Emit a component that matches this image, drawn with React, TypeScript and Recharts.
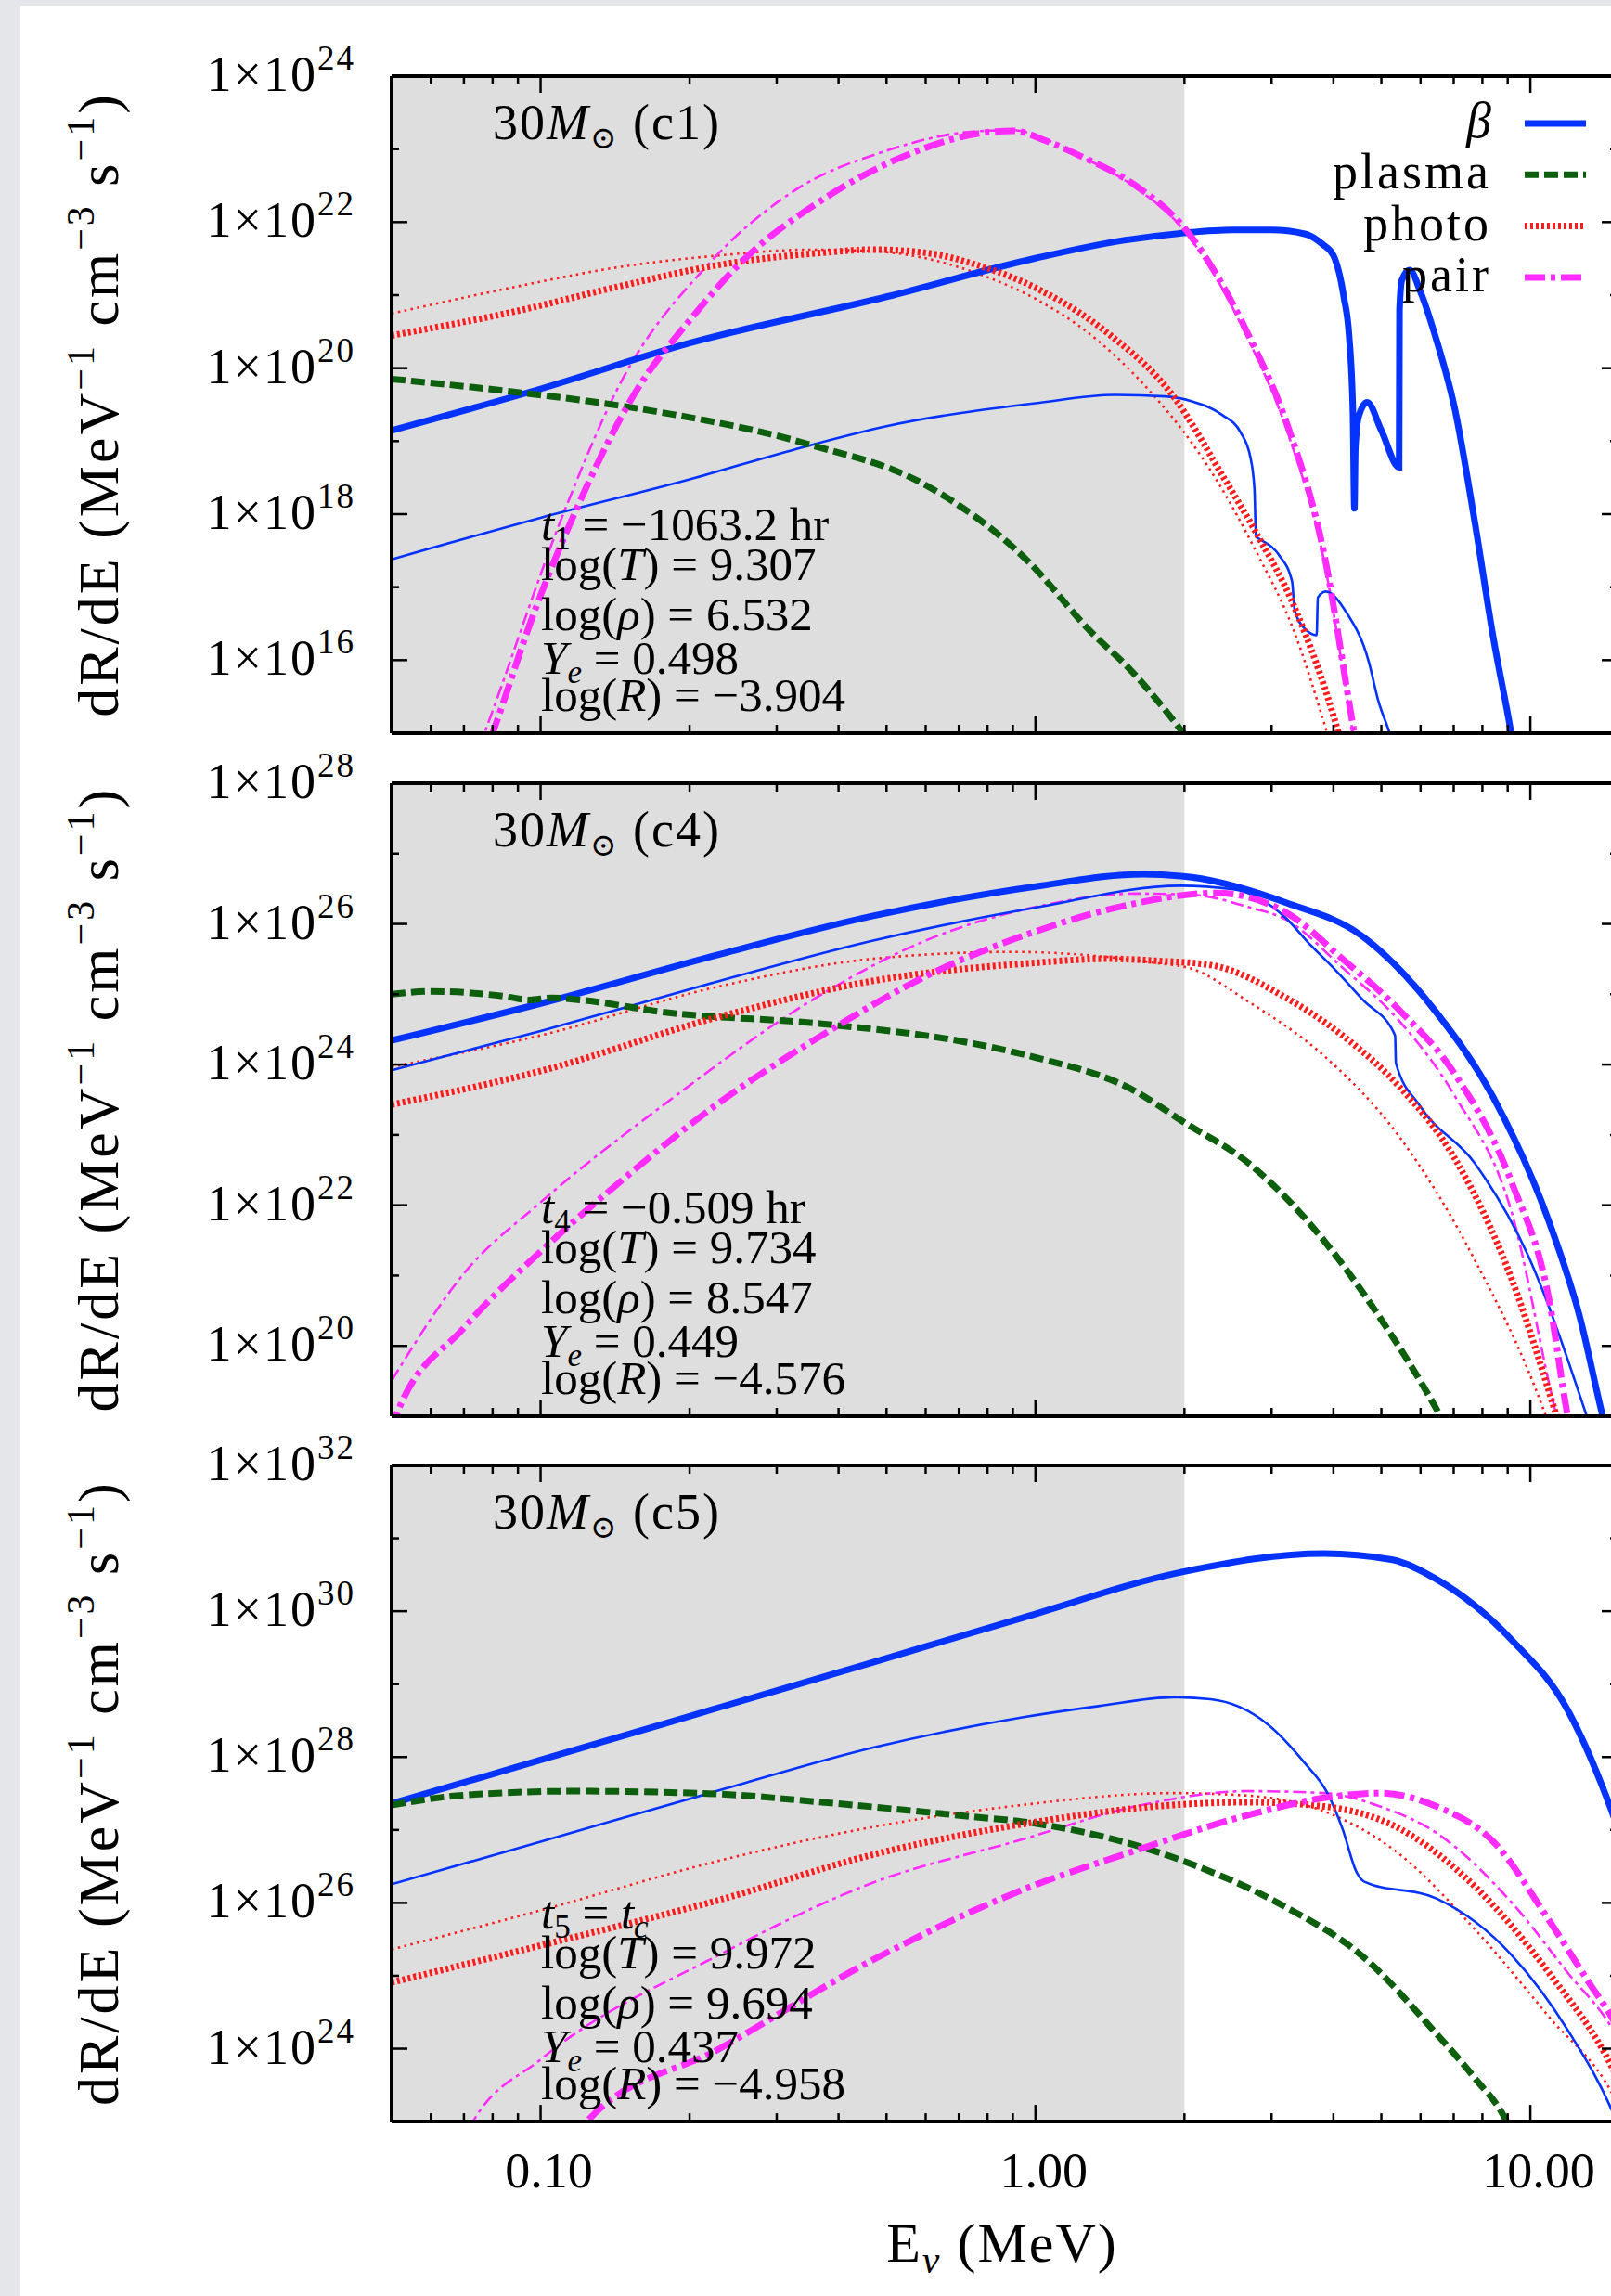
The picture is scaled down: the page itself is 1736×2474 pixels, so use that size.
import React from "react";
import { LineChart, Line, XAxis, YAxis, ReferenceArea, Legend } from "recharts";

type Pt = [number, number];

const SERIF = '"Liberation Serif", "DejaVu Serif", serif';

// energy axis (MeV)
const energyDomain: [number, number] = [0.05, 15];
const energyTicks = [0.06, 0.07, 0.08, 0.09, 0.1, 0.2, 0.3, 0.4, 0.5, 0.6, 0.7, 0.8, 0.9, 1, 2, 3, 4, 5, 6, 7, 8, 9, 10];
const shadedBand: [number, number] = [0.05, 2];

const c1Decades = [1e16, 1e17, 1e18, 1e19, 1e20, 1e21, 1e22, 1e23, 1e24];
const c4Decades = [1e20, 1e21, 1e22, 1e23, 1e24, 1e25, 1e26, 1e27, 1e28];
const c5Decades = [1e24, 1e25, 1e26, 1e27, 1e28, 1e29, 1e30, 1e31, 1e32];

// dR/dE in MeV^-1 cm^-3 s^-1 vs E in MeV
const c1BetaBold: Pt[] = [
  [0.05, 1.4e19], [0.1, 5.2e19], [0.2, 2.2e20], [0.5, 9.5e20], [1, 3.2e21], [1.5, 5.6e21], [2, 7.1e21],
  [2.5, 7.8e21], [3, 7.8e21], [3.5, 6.9e21], [3.8, 5.0e21], [4.0, 3.5e21], [4.2, 9.3e20], [4.3, 2.9e20],
  [4.38, 2.5e19], [4.41, 1.2e18], [4.43, 7.9e18], [4.5, 2.2e19], [4.68, 3.4e19], [5.0, 1.4e19],
  [5.43, 4.4e18], [5.44, 6.3e20], [5.5, 1.6e21], [5.7, 2.2e21], [6.0, 1.1e21], [6.41, 2.9e20],
  [7.05, 2.6e19], [7.71, 8.3e17], [8.42, 2.0e16], [9.15, 9.8e14], [9.5, 2e14],
];
const c1BetaThin: Pt[] = [
  [0.05, 2.4e17], [0.1, 8.9e17], [0.2, 3.0e18], [0.34, 8.3e18], [0.5, 1.6e19], [1, 3.3e19], [1.45, 4.3e19],
  [1.83, 4.1e19], [2.07, 3.5e19], [2.38, 2.3e19], [2.6, 1.3e19], [2.72, 5.9e18], [2.77, 2.2e18],
  [2.79, 4.9e17], [2.83, 4.6e17], [3.1, 2.8e17], [3.3, 1.2e17], [3.34, 4.9e16], [3.5, 2.7e16],
  [3.7, 2.2e16], [3.72, 7.2e16], [3.86, 8.7e16], [4.25, 4.5e16], [4.72, 9.3e15], [4.92, 2.9e15],
  [5.2, 9.8e14], [5.4, 4e14],
];
const c1Plasma: Pt[] = [
  [0.05, 7.1e19], [0.089, 4.7e19], [0.157, 2.8e19], [0.347, 9.1e18], [0.6, 2.5e18], [0.97, 2.2e17],
  [1.29, 2.5e16], [1.56, 7.2e15], [1.99, 1.0e15], [2.2, 4e14],
];
const c1PhotoBold: Pt[] = [
  [0.05, 2.8e20], [0.089, 6.0e20], [0.143, 1.3e21], [0.23, 2.6e21], [0.37, 3.8e21], [0.47, 4.2e21],
  [0.6, 3.8e21], [0.76, 2.6e21], [1.0, 1.26e21], [1.41, 2.9e20], [1.9, 4.1e19], [2.38, 3.5e18],
  [2.79, 5.6e17], [3.33, 5.5e16], [4.1, 9.8e14], [4.3, 3e14],
];
const c1PhotoThin: Pt[] = [
  [0.05, 5.6e20], [0.089, 1.3e21], [0.143, 2.4e21], [0.23, 3.5e21], [0.35, 4.2e21], [0.47, 4.0e21],
  [0.6, 3.2e21], [0.76, 2.0e21], [1.0, 8.9e20], [1.29, 2.9e20], [1.74, 4.1e19], [2.0, 1.3e19],
  [2.34, 2.7e18], [2.79, 3.1e17], [3.33, 2.5e16], [3.89, 9.8e14], [4.1, 3e14],
];
const c1PairBold: Pt[] = [
  [0.075, 3e14], [0.08, 1.0e15], [0.098, 5.4e16], [0.118, 1.15e18], [0.157, 5.2e19], [0.2, 4.5e20],
  [0.254, 2.8e21], [0.37, 2.0e22], [0.545, 8.1e22], [0.8, 1.7e23], [0.9, 1.78e23], [1.05, 1.3e23],
  [1.23, 8.1e22], [1.59, 3.2e22], [2.0, 8.3e21], [2.69, 2.9e20], [3.24, 1.55e19], [3.82, 3.1e17],
  [4.41, 9.8e14], [4.6, 2e14],
];
const c1PairThin: Pt[] = [
  [0.072, 3e14], [0.077, 1.0e15], [0.112, 1.15e18], [0.143, 5.2e19], [0.22, 2.8e21], [0.32, 2.5e22],
  [0.5, 9.5e22], [0.75, 1.74e23], [0.9, 1.82e23], [1.05, 1.35e23], [1.23, 8.1e22], [1.59, 3.0e22],
  [2.0, 7.6e21], [2.69, 2.5e20], [3.24, 1.26e19], [3.82, 2.5e17], [4.38, 9.8e14], [4.55, 2e14],
];

const c4BetaBold: Pt[] = [
  [0.05, 2.2e24], [0.1, 7.4e24], [0.23, 3.7e25], [0.47, 1.3e26], [1.0, 3.4e26], [1.65, 5.1e26],
  [2.07, 4.6e26], [3.21, 2.0e26], [4.56, 6.8e25], [6.46, 5.5e24], [8.42, 3.4e23], [10.9, 5.9e21],
  [12.6, 2.5e20], [14.0, 1.0e19], [15, 1.6e18],
];
const c4BetaThin: Pt[] = [
  [0.05, 8.3e23], [0.1, 3.0e24], [0.23, 1.55e25], [0.47, 5.8e25], [1.0, 1.7e26], [1.96, 3.5e26],
  [2.51, 3.1e26], [3.21, 1.2e26], [3.56, 5.4e25], [3.97, 2.5e25], [4.59, 8.3e24], [5.33, 2.6e24],
  [5.35, 1.05e24], [5.98, 2.6e23], [7.71, 4.0e22], [9.84, 2.1e21], [13.0, 1.0e19], [14, 2e18],
];
const c4Plasma: Pt[] = [
  [0.05, 1.0e25], [0.06, 1.1e25], [0.085, 9.3e24], [0.095, 8.3e24], [0.105, 8.9e24], [0.12, 8.3e24],
  [0.18, 5.5e24], [0.37, 3.8e24], [0.76, 1.95e24], [1.0, 1.26e24], [1.56, 4.5e23], [2.0, 1.5e23],
  [2.69, 4.0e22], [3.82, 3.2e21], [4.97, 2.5e20], [6.58, 1.0e19], [7.2, 3e18],
];
const c4PhotoBold: Pt[] = [
  [0.05, 2.7e23], [0.1, 8.1e23], [0.23, 4.8e24], [0.47, 1.55e25], [1.0, 2.8e25], [1.4, 3.2e25],
  [1.74, 3.0e25], [2.26, 2.6e25], [3.21, 8.9e24], [4.17, 2.6e24], [5.43, 4.9e23], [7.05, 4.5e22],
  [9.17, 8.9e20], [11.3, 1.0e19], [12, 2.5e18],
];
const c4PhotoThin: Pt[] = [
  [0.05, 9.3e23], [0.1, 2.6e24], [0.23, 1.3e25], [0.47, 3.2e25], [0.9, 4.0e25], [1.74, 2.8e25],
  [2.07, 2.3e25], [2.69, 7.9e24], [3.82, 1.35e24], [5.43, 9.5e22], [7.71, 1.7e21], [10.75, 1.0e19],
  [11.5, 2.5e18],
];
const c4PairBold: Pt[] = [
  [0.05, 6e18], [0.051, 1.0e19], [0.07, 1.8e20], [0.1, 2.2e21], [0.143, 2.0e22], [0.23, 2.9e23],
  [0.37, 2.6e24], [0.6, 1.8e25], [1.0, 7.8e25], [1.56, 1.9e26], [2.32, 2.75e26], [3.21, 1.45e26],
  [4.17, 3.2e25], [5.43, 6.0e24], [7.05, 7.2e23], [9.17, 2.1e22], [10.9, 4.7e20], [11.9, 1.0e19],
  [12.5, 2e18],
];
const c4PairThin: Pt[] = [
  [0.05, 3.2e19], [0.07, 1.07e21], [0.1, 1.1e22], [0.18, 2.9e23], [0.37, 1.0e25], [0.6, 5.8e25],
  [1.0, 1.74e26], [1.59, 2.7e26], [2.07, 2.6e26], [2.69, 1.74e26], [3.21, 1.15e26], [4.17, 2.4e25],
  [5.43, 4.2e24], [7.05, 3.5e23], [9.17, 7.9e21], [11.3, 1.0e19], [12, 2e18],
];

const c5BetaBold: Pt[] = [
  [0.05, 2.3e27], [0.1, 9.1e27], [0.23, 4.8e28], [0.47, 2.0e29], [0.94, 8.1e29], [2.0, 3.5e30],
  [3.83, 6.2e30], [5.24, 5.1e30], [6.46, 2.75e30], [9.18, 4.0e29], [11.9, 4.4e28], [14.7, 1.6e27],
  [16, 3e26],
];
const c5BetaThin: Pt[] = [
  [0.05, 1.8e26], [0.1, 6.9e26], [0.23, 3.5e27], [0.47, 1.35e28], [0.94, 3.5e28], [1.34, 5.0e28],
  [1.9, 6.6e28], [2.26, 6.2e28], [2.93, 2.9e28], [3.5, 8.3e27], [3.89, 3.2e27], [4.17, 1.05e27],
  [4.46, 2.6e26], [4.62, 1.95e26], [6.46, 1.15e26], [9.18, 1.9e25], [11.9, 1.8e24], [14.7, 1.3e23],
  [16, 3e22],
];
const c5Plasma: Pt[] = [
  [0.05, 2.2e27], [0.07, 3.0e27], [0.118, 3.4e27], [0.23, 3.1e27], [0.37, 2.4e27], [0.76, 1.5e27],
  [0.94, 1.3e27], [2.0, 3.7e26], [3.21, 8.7e25], [4.56, 1.9e25], [6.46, 1.6e24], [7.71, 4.0e23],
  [8.96, 1.0e23], [9.5, 4e22],
];
const c5PhotoBold: Pt[] = [
  [0.05, 8.1e24], [0.1, 2.6e25], [0.23, 1.1e26], [0.47, 4.6e26], [0.94, 1.2e27], [1.9, 2.2e27],
  [2.69, 2.4e27], [3.83, 2.1e27], [5.43, 1.05e27], [7.71, 1.7e26], [10.9, 1.1e25], [14.7, 5.2e23],
  [16, 1.5e23],
];
const c5PhotoThin: Pt[] = [
  [0.05, 2.3e25], [0.1, 7.9e25], [0.23, 3.8e26], [0.47, 1.1e27], [0.94, 2.2e27], [1.9, 3.2e27],
  [2.69, 2.95e27], [3.83, 1.8e27], [5.43, 4.7e26], [7.71, 4.4e25], [10.9, 2.75e24], [14.7, 2.3e23],
  [16, 7e22],
];
const c5PairBold: Pt[] = [
  [0.115, 4e22], [0.124, 1.0e23], [0.23, 1.0e24], [0.47, 1.66e25], [0.94, 1.5e26], [1.59, 5.2e26],
  [2.69, 1.6e27], [3.83, 2.75e27], [4.97, 3.2e27], [6.46, 2.1e27], [8.42, 6.9e26], [10.9, 5.8e25],
  [13.1, 8.3e24], [14.7, 2.5e24], [16, 8e23],
];
const c5PairThin: Pt[] = [
  [0.068, 4e22], [0.073, 1.0e23], [0.1, 7.1e23], [0.23, 1.95e25], [0.47, 1.9e26], [0.94, 7.4e26],
  [1.59, 2.1e27], [2.69, 3.4e27], [3.83, 3.2e27], [4.97, 2.1e27], [6.46, 9.1e26], [9.18, 1.0e26],
  [11.9, 1.1e25], [14.7, 1.8e24], [16, 6e23],
];

// thermodynamic state printed in each panel
const timeSubs = ["1", "4", "5"];
const timeValues = ["−1063.2 hr", "−0.509 hr", ""];
const logTValues = ["9.307", "9.734", "9.972"];
const logRhoValues = ["6.532", "8.547", "9.694"];
const yeValues = ["0.498", "0.449", "0.437"];
const logRValues = ["−3.904", "−4.576", "−4.958"];

const BLUE = "#0433ff";
const GREEN = "#0d5e0d";
const RED = "#ff1c1c";
const MAGENTA = "#ff2bff";

type Kind = "beta" | "plasma" | "photo" | "pair";
const kindName: Record<Kind, string> = { beta: "β", plasma: "plasma", photo: "photo", pair: "pair" };
const kindColor: Record<Kind, string> = { beta: BLUE, plasma: GREEN, photo: RED, pair: MAGENTA };
const boldDash: Record<Kind, string | undefined> = { beta: undefined, plasma: "15 6", photo: "3 3", pair: "22 6 5 6" };
const thinDash: Record<Kind, string | undefined> = { beta: undefined, plasma: "15 6", photo: "2.5 4.5", pair: "14 5 4 5" };

type Series = { kind: Kind; pts: Pt[]; bold: boolean };

type PanelCfg = {
  tag: string;
  top: number;
  bottom: number;
  yDomain: [number, number];
  decades: number[];
  series: Series[];
};

const panels: PanelCfg[] = [
  {
    tag: "c1", top: 82, bottom: 790, yDomain: [1e15, 1e24], decades: c1Decades,
    series: [
      { kind: "photo", pts: c1PhotoThin, bold: false },
      { kind: "pair", pts: c1PairThin, bold: false },
      { kind: "beta", pts: c1BetaThin, bold: false },
      { kind: "beta", pts: c1BetaBold, bold: true },
      { kind: "plasma", pts: c1Plasma, bold: true },
      { kind: "photo", pts: c1PhotoBold, bold: true },
      { kind: "pair", pts: c1PairBold, bold: true },
    ],
  },
  {
    tag: "c4", top: 843.6, bottom: 1525.6, yDomain: [1e19, 1e28], decades: c4Decades,
    series: [
      { kind: "photo", pts: c4PhotoThin, bold: false },
      { kind: "pair", pts: c4PairThin, bold: false },
      { kind: "beta", pts: c4BetaThin, bold: false },
      { kind: "beta", pts: c4BetaBold, bold: true },
      { kind: "plasma", pts: c4Plasma, bold: true },
      { kind: "photo", pts: c4PhotoBold, bold: true },
      { kind: "pair", pts: c4PairBold, bold: true },
    ],
  },
  {
    tag: "c5", top: 1578.7, bottom: 2285.8, yDomain: [1e23, 1e32], decades: c5Decades,
    series: [
      { kind: "photo", pts: c5PhotoThin, bold: false },
      { kind: "pair", pts: c5PairThin, bold: false },
      { kind: "beta", pts: c5BetaThin, bold: false },
      { kind: "beta", pts: c5BetaBold, bold: true },
      { kind: "plasma", pts: c5Plasma, bold: true },
      { kind: "photo", pts: c5PhotoBold, bold: true },
      { kind: "pair", pts: c5PairBold, bold: true },
    ],
  },
];

const CHART_W = 1760;
const LEFT_W = 422;
const RIGHT_W = 17;
const TOP_PAD = 60;
const STAT_OFFSETS = [-208, -165, -111, -64, -24];

const toRows = (pts: Pt[]) => pts.map(([e, r]) => ({ e, r }));
const isDecade = (v: number) => Math.abs(Math.log10(v) - Math.round(Math.log10(v))) < 1e-6;

function LeftTick(props: any) {
  const { x, y, payload } = props;
  const exp = Math.round(Math.log10(payload.value));
  const major = exp % 2 === 0;
  return (
    <g>
      <line x1={x} x2={x + (major ? 17 : 8)} y1={y} y2={y} stroke="#000" strokeWidth={2.5} />
      {major && (
        <text x={x - 39} y={y + 16} textAnchor="end" fontFamily={SERIF} fontSize={54} letterSpacing={2} fill="#000">
          1×10<tspan dy={-23} fontSize={37}>{exp}</tspan>
        </text>
      )}
    </g>
  );
}

function RightTick(props: any) {
  const { x, y, payload } = props;
  const exp = Math.round(Math.log10(payload.value));
  return <line x1={x} x2={x - (exp % 2 === 0 ? 17 : 8)} y1={y} y2={y} stroke="#000" strokeWidth={2.5} />;
}

function BottomTick(props: any) {
  const { x, y, payload, withLabels } = props;
  const v = payload.value;
  const major = isDecade(v);
  return (
    <g>
      <line x1={x} x2={x} y1={y} y2={y - (major ? 18 : 9)} stroke="#000" strokeWidth={2.5} />
      {withLabels && major && (
        <text x={x + 9} y={y + 71} textAnchor="middle" fontFamily={SERIF} fontSize={54} fill="#000">
          {v.toFixed(2)}
        </text>
      )}
    </g>
  );
}

function TopTick(props: any) {
  const { x, y, payload } = props;
  const major = isDecade(payload.value);
  return <line x1={x} x2={x} y1={y} y2={y + (major ? 18 : 9)} stroke="#000" strokeWidth={2.5} />;
}

const legendOrder = ["β", "plasma", "photo", "pair"];

function LegendBox(props: any) {
  const seen = new Set<string>();
  const items = (props.payload ?? [])
    .filter((it: any) => it.type !== "none" && legendOrder.includes(it.value))
    .filter((it: any) => (seen.has(it.value) ? false : (seen.add(it.value), true)))
    .sort((a: any, b: any) => legendOrder.indexOf(a.value) - legendOrder.indexOf(b.value));
  return (
    <svg width={360} height={240} style={{ display: "block", overflow: "visible" }}>
      {items.map((it: any, i: number) => {
        const kind = (Object.keys(kindName) as Kind[]).find((k) => kindName[k] === it.value) ?? "beta";
        const y = 22 + i * 55.3;
        return (
          <g key={it.value}>
            <text
              x={227}
              y={y + 15}
              textAnchor="end"
              fontFamily={SERIF}
              fontSize={54}
              letterSpacing={kind === "beta" ? 0 : 3}
              fontStyle={kind === "beta" ? "italic" : "normal"}
              fill="#000"
            >
              {it.value}
            </text>
            <line x1={263} x2={329} y1={y} y2={y} stroke={kindColor[kind]} strokeWidth={7} strokeDasharray={boldDash[kind]} />
          </g>
        );
      })}
    </svg>
  );
}

function Panel({ cfg, index }: { cfg: PanelCfg; index: number }) {
  const last = index === panels.length - 1;
  const plotH = cfg.bottom - cfg.top;
  const bottomH = last ? 200 : 20;
  const axisLine = { stroke: "#000", strokeWidth: 4 };
  return (
    <div style={{ position: "absolute", left: 0, top: cfg.top - TOP_PAD }}>
      <LineChart width={CHART_W} height={TOP_PAD + plotH + bottomH} margin={{ top: TOP_PAD - 1, right: 0, bottom: 0, left: 0 }}>
        <XAxis
          dataKey="e"
          type="number"
          scale="log"
          domain={energyDomain}
          allowDataOverflow
          ticks={energyTicks}
          interval={0}
          height={bottomH}
          tickSize={0}
          tickMargin={0}
          tickLine={false}
          axisLine={axisLine}
          tick={(p: any) => <BottomTick {...p} withLabels={last} />}
        />
        <XAxis
          xAxisId="top"
          orientation="top"
          dataKey="e"
          type="number"
          scale="log"
          domain={energyDomain}
          allowDataOverflow
          ticks={energyTicks}
          interval={0}
          height={1}
          tickSize={0}
          tickMargin={0}
          tickLine={false}
          axisLine={axisLine}
          tick={(p: any) => <TopTick {...p} />}
        />
        <YAxis
          type="number"
          scale="log"
          domain={cfg.yDomain}
          allowDataOverflow
          ticks={cfg.decades}
          interval={0}
          width={LEFT_W}
          tickSize={0}
          tickMargin={0}
          tickLine={false}
          axisLine={axisLine}
          tick={(p: any) => <LeftTick {...p} />}
        />
        <YAxis
          yAxisId="right"
          orientation="right"
          type="number"
          scale="log"
          domain={cfg.yDomain}
          allowDataOverflow
          ticks={cfg.decades}
          interval={0}
          width={RIGHT_W}
          tickSize={0}
          tickMargin={0}
          tickLine={false}
          axisLine={axisLine}
          tick={(p: any) => <RightTick {...p} />}
        />
        <ReferenceArea x1={shadedBand[0]} x2={shadedBand[1]} fill="#dedede" fillOpacity={1} stroke="none" />
        {cfg.series.map((s, i) => (
          <Line
            key={`${cfg.tag}-${s.kind}-${s.bold ? "b" : "t"}-${i}`}
            data={toRows(s.pts)}
            dataKey="r"
            name={kindName[s.kind]}
            type="monotoneX"
            stroke={kindColor[s.kind]}
            strokeWidth={s.bold ? 7 : 2.6}
            strokeDasharray={s.bold ? boldDash[s.kind] : thinDash[s.kind]}
            dot={false}
            activeDot={false}
            isAnimationActive={false}
            legendType={index === 0 && s.bold ? "line" : "none"}
          />
        ))}
        {index === 0 && (
          <Legend
            layout="horizontal"
            verticalAlign="middle"
            align="center"
            content={(p: any) => <LegendBox {...p} />}
            wrapperStyle={{ position: "absolute", left: 1380, top: TOP_PAD + 29, width: 360, height: 240 }}
          />
        )}
      </LineChart>
    </div>
  );
}

function PanelNotes({ cfg, index }: { cfg: PanelCfg; index: number }) {
  const mid = (cfg.top + cfg.bottom) / 2;
  const b = STAT_OFFSETS.map((o) => cfg.bottom + o);
  const sx = 583;
  const yTitleX = 127;
  return (
    <g fontFamily={SERIF} fill="#000">
      <text x={531} y={cfg.top + 68} fontSize={54} letterSpacing={2}>
        30<tspan fontStyle="italic">M</tspan>
        <tspan fontSize={34} dy={10}>⊙</tspan>
        <tspan dy={-10}> ({cfg.tag})</tspan>
      </text>
      <text x={sx} y={b[0]} fontSize={51}>
        <tspan fontStyle="italic">t</tspan>
        <tspan fontSize={35} dy={10}>{timeSubs[index]}</tspan>
        <tspan dy={-10}> = </tspan>
        {timeValues[index] ? (
          <tspan>{timeValues[index]}</tspan>
        ) : (
          <>
            <tspan fontStyle="italic">t</tspan>
            <tspan fontSize={35} dy={10} fontStyle="italic">c</tspan>
          </>
        )}
      </text>
      <text x={sx} y={b[1]} fontSize={51}>
        log(<tspan fontStyle="italic">T</tspan>) = {logTValues[index]}
      </text>
      <text x={sx} y={b[2]} fontSize={51}>
        log(<tspan fontStyle="italic">ρ</tspan>) = {logRhoValues[index]}
      </text>
      <text x={sx} y={b[3]} fontSize={51}>
        <tspan fontStyle="italic">Y</tspan>
        <tspan fontSize={35} dy={10} fontStyle="italic">e</tspan>
        <tspan dy={-10}> = {yeValues[index]}</tspan>
      </text>
      <text x={sx} y={b[4]} fontSize={51}>
        log(<tspan fontStyle="italic">R</tspan>) = {logRValues[index]}
      </text>
      <text
        transform={`rotate(-90 ${yTitleX} ${mid})`}
        x={yTitleX}
        y={mid}
        textAnchor="middle"
        fontSize={62}
        letterSpacing={3}
      >
        dR/dE (MeV<tspan dy={-26} fontSize={42}>−1</tspan>
        <tspan dy={26}> cm</tspan>
        <tspan dy={-26} fontSize={42}>−3</tspan>
        <tspan dy={26}> s</tspan>
        <tspan dy={-26} fontSize={42}>−1</tspan>
        <tspan dy={26}>)</tspan>
      </text>
    </g>
  );
}

export default function App() {
  return (
    <div
      style={{
        position: "absolute",
        left: 0,
        top: 0,
        width: 1736,
        height: 2474,
        overflow: "hidden",
        background: "#e5e6e9",
      }}
    >
      <div style={{ position: "absolute", left: 22, top: 6, right: 0, bottom: 0, background: "#fff" }} />
      {panels.map((cfg, i) => (
        <Panel key={cfg.tag} cfg={cfg} index={i} />
      ))}
      <svg
        width={1736}
        height={2474}
        style={{ position: "absolute", left: 0, top: 0, pointerEvents: "none" }}
      >
        {panels.map((cfg, i) => (
          <PanelNotes key={cfg.tag} cfg={cfg} index={i} />
        ))}
        <text x={1080} y={2437} textAnchor="middle" fontFamily={SERIF} fontSize={60} letterSpacing={2} fill="#000">
          E<tspan fontSize={42} dy={12} fontStyle="italic">ν</tspan>
          <tspan dy={-12}> (MeV)</tspan>
        </text>
      </svg>
    </div>
  );
}
